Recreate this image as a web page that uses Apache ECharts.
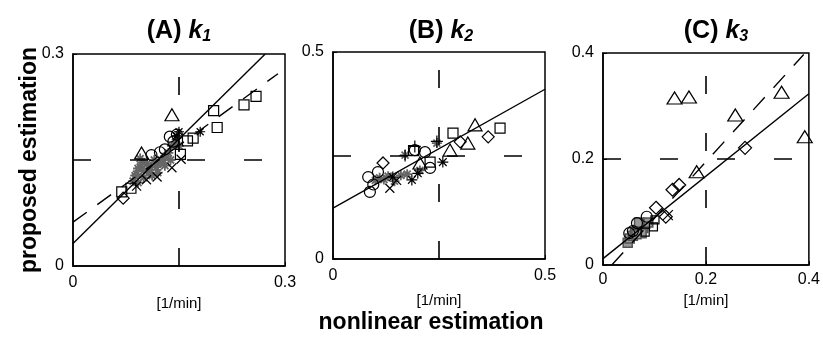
<!DOCTYPE html>
<html>
<head>
<meta charset="utf-8">
<script src="https://cdn.jsdelivr.net/npm/echarts@6/dist/echarts.min.js"></script>
<style>
  html, body { margin: 0; padding: 0; background: #fff; }
  #chart { width: 823px; height: 338px; }
</style>
</head>
<body>
<div id="chart"></div>
<script>
// axis ranges for the three panels
const axisMax = [0.3, 0.5, 0.4];
const axisStep = [0.3, 0.5, 0.2];
const crossAt = [0.15, 0.25, 0.2];

// panel A (k1) points [nonlinear, proposed]
const aCircle = [[0.137,0.183],[0.123,0.161],[0.111,0.157],[0.130,0.165],[0.142,0.176],[0.147,0.186]];
const aSquare = [[0.199,0.220],[0.204,0.196],[0.242,0.228],[0.259,0.240],[0.170,0.181],[0.162,0.177],[0.069,0.105],[0.082,0.110],[0.152,0.158]];
const aTriangle = [[0.140,0.214],[0.097,0.160]];
const aDiamond = [[0.071,0.096]];
const aCross = [[0.119,0.126],[0.104,0.122],[0.140,0.139],[0.153,0.151],[0.090,0.113]];
const aStar = [[0.180,0.190],[0.150,0.190],[0.146,0.184]];
const aGrey = [[0.085,0.120],[0.090,0.130],[0.095,0.140],[0.100,0.135],[0.105,0.145],[0.110,0.140],[0.115,0.150],[0.120,0.145],
  [0.125,0.150],[0.130,0.155],[0.135,0.160],[0.140,0.170],[0.145,0.175],[0.100,0.125],[0.095,0.152],[0.088,0.128],[0.120,0.132],
  [0.130,0.142],[0.150,0.170],[0.092,0.118],[0.098,0.146],[0.108,0.132],[0.112,0.128],[0.118,0.140],[0.128,0.146],[0.138,0.150],[0.092,0.138]];

// panel B (k2)
const bCircle = [[0.083,0.198],[0.087,0.162],[0.106,0.210],[0.217,0.258],[0.193,0.263],[0.229,0.220],[0.095,0.180]];
const bSquare = [[0.394,0.316],[0.283,0.304],[0.229,0.234],[0.190,0.262]];
const bTriangle = [[0.335,0.324],[0.318,0.280],[0.276,0.263],[0.205,0.232]];
const bDiamond = [[0.366,0.295],[0.300,0.283],[0.118,0.232]];
const bCross = [[0.134,0.171],[0.150,0.190]];
const bPlus = [[0.245,0.284],[0.193,0.272],[0.170,0.250]];
const bStar = [[0.259,0.234],[0.200,0.207],[0.186,0.191],[0.141,0.198]];
const bGrey = [[0.245,0.280],[0.170,0.251],[0.100,0.190],[0.110,0.196],[0.120,0.192],[0.130,0.200],[0.145,0.188],[0.160,0.202],[0.175,0.205],[0.205,0.214]];

// panel C (k3)
const cCircle = [[0.085,0.091],[0.066,0.079],[0.051,0.060],[0.058,0.064]];
const cSquare = [[0.098,0.072],[0.101,0.085],[0.082,0.062]];
const cTriangle = [[0.139,0.315],[0.167,0.317],[0.347,0.326],[0.257,0.283],[0.392,0.242],[0.182,0.176]];
const cDiamond = [[0.276,0.221],[0.148,0.151],[0.135,0.142],[0.103,0.108],[0.122,0.091]];
const cCross = [[0.126,0.094]];
const cGrey = [[0.048,0.042],[0.052,0.050],[0.058,0.055],[0.062,0.062],[0.068,0.066],[0.072,0.072],[0.078,0.070],[0.075,0.060],[0.065,0.058],[0.082,0.078],[0.088,0.080],[0.070,0.080]];

// fitted lines
const aSolid = [[0, 0.032], [0.272, 0.3]];
const aDash = [[0, 0.062], [0.29, 0.272]];
const bSolid = [[0, 0.123], [0.5, 0.41]];
const cSolid = [[0, 0.012], [0.4, 0.323]];
const cDash = [[0.017, 0], [0.39, 0.397]];

const grids = [
  { left: 73, top: 54, width: 212, height: 212 },
  { left: 333, top: 52, width: 212, height: 207 },
  { left: 603, top: 53, width: 213, height: 212 }
];
const nameGaps = [28, 34, 15];
const labelFont = 'Liberation Sans';

const crossPath = 'path://M0,0L10,10M10,0L0,10';
const plusPath = 'path://M5,0L5,10M0,5L10,5';
const starPath = 'path://M5,0L5,10M0,5L10,5M1.5,1.5L8.5,8.5M8.5,1.5L1.5,8.5';
const triPath = 'path://M6,0L12,10L0,10Z';
const diaPath = 'path://M5,0L10,5L5,10L0,5Z';

function pts(i, data, symbol, size, color, width, fill) {
  return {
    type: 'scatter', xAxisIndex: i, yAxisIndex: i, data: data,
    symbol: symbol, symbolSize: size, silent: true,
    itemStyle: { color: fill || 'transparent', borderColor: color || '#000', borderWidth: width || 1.2, opacity: 1 }
  };
}

function fitLine(i, data, dashed) {
  return {
    type: 'line', xAxisIndex: i, yAxisIndex: i, data: data, symbol: 'none', silent: true,
    lineStyle: { color: '#000', width: 1.4, type: dashed ? [17, 13] : 'solid' }
  };
}

function crossLines(i) {
  return {
    type: 'scatter', xAxisIndex: i, yAxisIndex: i, data: [], silent: true,
    markLine: {
      silent: true, symbol: 'none', label: { show: false },
      lineStyle: { color: '#000', width: 1.6, type: [18, 39] },
      data: [{ xAxis: crossAt[i] }, { yAxis: crossAt[i] }]
    }
  };
}

const option = {
  animation: false,
  backgroundColor: '#fff',
  grid: grids.map(g => Object.assign({ show: true, borderColor: '#000', borderWidth: 1.5, backgroundColor: 'transparent' }, g)),
  xAxis: grids.map((g, i) => ({
    gridIndex: i, type: 'value', min: 0, max: axisMax[i], interval: axisStep[i],
    name: '[1/min]', nameLocation: 'middle', nameGap: nameGaps[i],
    nameTextStyle: { fontFamily: labelFont, fontSize: 15, color: '#000' },
    axisLine: { lineStyle: { color: '#000', width: 1.5 } },
    axisTick: { inside: true, length: 4, lineStyle: { color: '#000' } },
    axisLabel: { fontFamily: labelFont, fontSize: 16, color: '#000', margin: i === 2 ? 7 : 9, formatter: v => String(+v.toFixed(2)) },
    splitLine: { show: false }
  })),
  yAxis: grids.map((g, i) => ({
    gridIndex: i, type: 'value', min: 0, max: axisMax[i], interval: axisStep[i],
    axisLine: { lineStyle: { color: '#000', width: 1.5 } },
    axisTick: { inside: true, length: 4, lineStyle: { color: '#000' } },
    axisLabel: { fontFamily: labelFont, fontSize: 16, color: '#000', margin: 9, formatter: v => String(+v.toFixed(2)) },
    splitLine: { show: false }
  })),
  title: [['A', '1', 174], ['B', '2', 436], ['C', '3', 711]].map(t => ({
    text: '{p|(' + t[0] + ') }{k|k}{s|' + t[1] + '}',
    left: t[2], top: 11, textAlign: 'center',
    textStyle: {
      rich: {
        p: { fontFamily: labelFont, fontSize: 25, fontWeight: 'bold', color: '#000', lineHeight: 30 },
        k: { fontFamily: labelFont, fontSize: 25, fontWeight: 'bold', fontStyle: 'italic', color: '#000', lineHeight: 30 },
        s: { fontFamily: labelFont, fontSize: 16, fontWeight: 'bold', fontStyle: 'italic', color: '#000', lineHeight: 30, padding: [11, 0, 0, 0] }
      }
    }
  })),
  graphic: [
    {
      type: 'text', x: 30, y: 160, rotation: Math.PI / 2,
      style: { text: 'proposed estimation', font: 'bold 23px "Liberation Sans"', fill: '#000', align: 'center', verticalAlign: 'middle', textAlign: 'center', textVerticalAlign: 'middle' }
    },
    {
      type: 'text', x: 431, y: 323,
      style: { text: 'nonlinear estimation', font: 'bold 23px "Liberation Sans"', fill: '#000', align: 'center', verticalAlign: 'middle', textAlign: 'center', textVerticalAlign: 'middle' }
    }
  ],
  series: [
    crossLines(0), crossLines(1), crossLines(2),
    fitLine(0, aSolid, false), fitLine(0, aDash, true),
    fitLine(1, bSolid, false),
    fitLine(2, cSolid, false), fitLine(2, cDash, true),

    pts(0, aGrey, starPath, 10, '#666', 1.8),
    pts(0, aCircle, 'circle', 11),
    pts(0, aSquare, 'rect', 10),
    pts(0, aTriangle, triPath, [14, 12]),
    pts(0, aDiamond, diaPath, 12),
    pts(0, aCross, crossPath, 9),
    pts(0, aStar, starPath, 10),

    pts(1, bGrey, starPath, 10, '#666', 1.8),
    pts(1, bCircle, 'circle', 11),
    pts(1, bSquare, 'rect', 10),
    pts(1, bTriangle, triPath, [14, 12]),
    pts(1, bDiamond, diaPath, 12),
    pts(1, bCross, crossPath, 9),
    pts(1, bPlus, plusPath, 12),
    pts(1, bStar, starPath, 11),

    pts(2, cGrey, 'rect', 9, '#555', 1.5, '#999'),
    pts(2, cCircle, 'circle', 11),
    pts(2, cSquare, 'rect', 8),
    pts(2, cTriangle, triPath, [15, 12]),
    pts(2, cDiamond, diaPath, 13),
    pts(2, cCross, crossPath, 10)
  ]
};

const chart = echarts.init(document.getElementById('chart'), null, { renderer: 'canvas' });
chart.setOption(option);
</script>
</body>
</html>
